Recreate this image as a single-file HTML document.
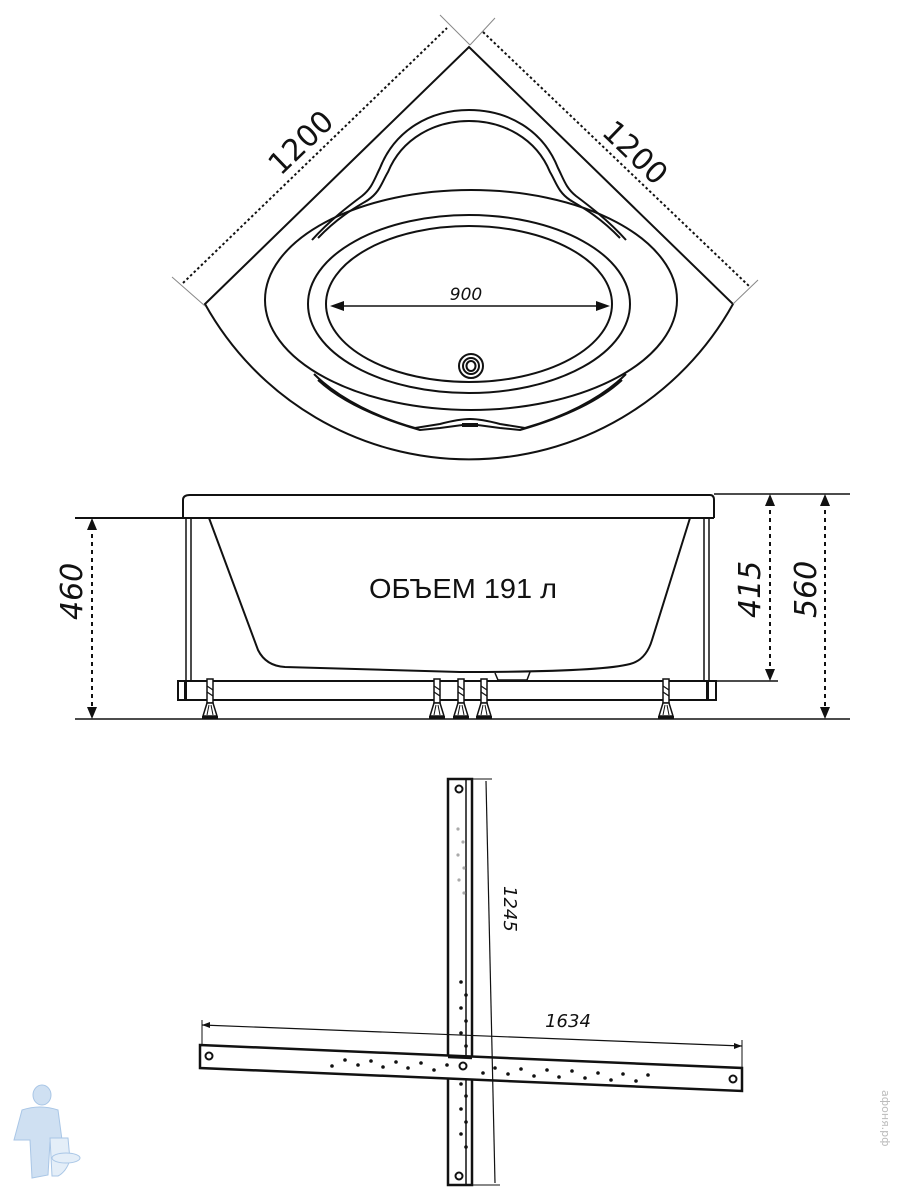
<!DOCTYPE html>
<html><head><meta charset="utf-8"><style>
html,body{margin:0;padding:0;background:#fff;}
svg{display:block}
text{font-family:"DejaVu Sans","Liberation Sans",sans-serif;fill:#111}
</style></head><body>
<svg width="900" height="1200" viewBox="0 0 900 1200" xmlns="http://www.w3.org/2000/svg">
<defs>
<g id="foot">
<rect x="-3" y="679" width="6" height="24" fill="#fff" stroke="#111" stroke-width="1.5"/>
<path d="M-3,703 L-7,716 L7,716 L3,703 Z" fill="#fff" stroke="#111" stroke-width="1.5"/>
<rect x="-8" y="716" width="16" height="3" fill="#111"/>
<line x1="-3" y1="686" x2="3" y2="690" stroke="#111" stroke-width="1.2"/>
<line x1="-3" y1="692" x2="3" y2="696" stroke="#111" stroke-width="1.2"/>
<line x1="-1" y1="705" x2="-3" y2="715" stroke="#111" stroke-width="1"/>
<line x1="1" y1="705" x2="3" y2="715" stroke="#111" stroke-width="1"/>
</g>
</defs>
<g fill="none" stroke="#111" stroke-width="2">
<!-- TOP VIEW -->
<path d="M205,304 L469,47 L733,304 A302,302 0 0 1 205,304 Z"/>
<ellipse cx="471" cy="300" rx="206" ry="110"/>
<ellipse cx="469" cy="304" rx="161" ry="89"/>
<ellipse cx="469" cy="304" rx="143" ry="78"/>
<path d="M312,240 C330,220 350,205 362,196 C372,188 374,180 380,168 C395,130 430,110 469,110 C508,110 543,130 558,168 C564,180 566,188 576,196 C588,205 608,220 626,240"/>
<path d="M318,238 C340,215 360,205 368,200 C380,192 382,182 388,172 C402,138 435,121 469,121 C503,121 536,138 550,172 C556,182 558,192 570,200 C578,205 598,215 620,238"/>
<path d="M314,374 C340,400 380,418 415,428 L440,424 C455,420 465,419 470,419 C475,419 485,420 500,424 L525,428 C560,418 600,400 626,374"/>
<path d="M318,380 C345,405 385,420 420,430 L440,428 L470,424 L500,428 L520,430 C555,420 595,405 622,380"/>
<line x1="462" y1="425" x2="478" y2="425" stroke-width="4"/>
<ellipse cx="471" cy="366" rx="12" ry="12"/>
<ellipse cx="471" cy="366" rx="8" ry="8"/>
<ellipse cx="471" cy="366" rx="4.5" ry="5"/>
<line x1="334" y1="306" x2="606" y2="306" stroke-width="1.6"/>
</g>
<path d="M330,306 L344,301 L344,311 Z M610,306 L596,301 L596,311 Z" fill="#111"/>
<text x="466" y="300" font-size="17" font-style="italic" text-anchor="middle">900</text>
<g stroke="#111" fill="none">
<line x1="183" y1="283" x2="447" y2="28" stroke-width="2" stroke-dasharray="2.5,2.5"/>
<line x1="483" y1="32" x2="749" y2="286" stroke-width="2" stroke-dasharray="2.5,2.5"/>
<line x1="172" y1="277" x2="205" y2="306" stroke="#888" stroke-width="1"/>
<line x1="440" y1="15" x2="470" y2="45" stroke="#888" stroke-width="1"/>
<line x1="470" y1="45" x2="495" y2="18" stroke="#888" stroke-width="1"/>
<line x1="733" y1="304" x2="758" y2="280" stroke="#888" stroke-width="1"/>
</g>
<text x="0" y="0" font-size="30" transform="translate(308,150) rotate(-44)" text-anchor="middle">1200</text>
<text x="0" y="0" font-size="30" transform="translate(628,160) rotate(44)" text-anchor="middle">1200</text>

<!-- SIDE VIEW -->
<g fill="none" stroke="#111" stroke-width="2">
<path d="M183,518 L183,500 Q183,495 190,495 L710,495 Q714,495 714,500 L714,518"/>
<line x1="75" y1="518" x2="714" y2="518"/>
<line x1="714" y1="494" x2="850" y2="494" stroke-width="1.5"/>
<line x1="75" y1="719" x2="850" y2="719" stroke-width="1.5"/>
<rect x="178" y="681" width="538" height="19"/>
<line x1="700" y1="681" x2="778" y2="681" stroke-width="1.5"/>
<line x1="186" y1="518" x2="186" y2="681" stroke-width="1.5"/>
<line x1="191" y1="518" x2="191" y2="681" stroke-width="1.5"/>
<line x1="704" y1="518" x2="704" y2="681" stroke-width="1.5"/>
<line x1="709" y1="518" x2="709" y2="681" stroke-width="1.5"/>
<path d="M209,518 L258,650 Q266,666 285,667 L460,672 Q600,672 630,664 Q646,660 652,640 L690,518"/>
<path d="M495,673 L498,680 L527,680 L530,672" stroke-width="1.5"/>
<g stroke-dasharray="4,4" stroke-width="2">
<line x1="92" y1="526" x2="92" y2="712"/>
<line x1="770" y1="502" x2="770" y2="674"/>
<line x1="825" y1="502" x2="825" y2="712"/>
</g>
</g>
<g fill="#111">
<path d="M92,518 L87,530 L97,530 Z M92,719 L87,707 L97,707 Z"/>
<path d="M770,494 L765,506 L775,506 Z M770,681 L765,669 L775,669 Z"/>
<path d="M825,494 L820,506 L830,506 Z M825,719 L820,707 L830,707 Z"/>
<rect x="184" y="682" width="3" height="17"/><rect x="706" y="682" width="3" height="17"/>
</g>
<use href="#foot" transform="translate(210,0)"/>
<use href="#foot" transform="translate(437,0)"/>
<use href="#foot" transform="translate(461,0)"/>
<use href="#foot" transform="translate(484,0)"/>
<use href="#foot" transform="translate(666,0)"/>
<text x="463" y="598" font-size="28" text-anchor="middle" style="font-family:'Liberation Sans',sans-serif" textLength="188" lengthAdjust="spacingAndGlyphs">ОБЪЕМ 191 л</text>
<text font-size="30" font-style="italic" transform="translate(82,620) rotate(-90)">460</text>
<text font-size="30" font-style="italic" transform="translate(760,618) rotate(-90)">415</text>
<text font-size="30" font-style="italic" transform="translate(816,618) rotate(-90)">560</text>

<!-- BOTTOM FRAME -->
<g fill="none" stroke="#111">
<rect x="448" y="779" width="24" height="406" stroke-width="2.5" fill="#fff"/>
<line x1="466" y1="779" x2="466" y2="1185" stroke-width="1.5"/>
<path d="M200,1045 L742,1068 L742,1091 L200,1068 Z" stroke-width="2.5" fill="#fff"/>
<line x1="448" y1="1057" x2="472" y2="1058" stroke-width="2.5"/>
<line x1="486" y1="781" x2="495" y2="1183" stroke-width="1.2"/>
<line x1="202" y1="1025" x2="742" y2="1046" stroke-width="1.2"/>
<line x1="202" y1="1020" x2="202" y2="1045" stroke-width="1"/>
<line x1="742" y1="1040" x2="742" y2="1068" stroke-width="1"/>
<line x1="472" y1="779" x2="492" y2="779" stroke-width="1"/>
<line x1="472" y1="1185" x2="500" y2="1185" stroke-width="1"/>
<circle cx="459" cy="789" r="3.5" stroke-width="2"/>
<circle cx="459" cy="1176" r="3.5" stroke-width="2"/>
<circle cx="209" cy="1056" r="3.5" stroke-width="2"/>
<circle cx="733" cy="1079" r="3.5" stroke-width="2"/>
<circle cx="463" cy="1066" r="3.5" stroke-width="2"/>
</g>
<path d="M202,1025 L210,1022 L210,1028 Z M742,1046 L734,1043 L734,1049 Z" fill="#111"/>
<g fill="#aaa"><circle cx="458" cy="829" r="1.6"/><circle cx="463" cy="842" r="1.6"/><circle cx="458" cy="855" r="1.6"/><circle cx="464" cy="868" r="1.6"/><circle cx="459" cy="880" r="1.6"/><circle cx="464" cy="893" r="1.6"/></g>
<g fill="#111">
<circle cx="461" cy="982" r="1.8"/><circle cx="466" cy="995" r="1.8"/><circle cx="461" cy="1008" r="1.8"/><circle cx="466" cy="1021" r="1.8"/><circle cx="461" cy="1033" r="1.8"/><circle cx="466" cy="1046" r="1.8"/>
<circle cx="461" cy="1084" r="1.8"/><circle cx="466" cy="1096" r="1.8"/><circle cx="461" cy="1109" r="1.8"/><circle cx="466" cy="1122" r="1.8"/><circle cx="461" cy="1134" r="1.8"/><circle cx="466" cy="1147" r="1.8"/>
<circle cx="332" cy="1066" r="1.8"/><circle cx="345" cy="1060" r="1.8"/><circle cx="358" cy="1065" r="1.8"/><circle cx="371" cy="1061" r="1.8"/><circle cx="383" cy="1067" r="1.8"/><circle cx="396" cy="1062" r="1.8"/><circle cx="408" cy="1068" r="1.8"/><circle cx="421" cy="1063" r="1.8"/><circle cx="434" cy="1070" r="1.8"/><circle cx="447" cy="1065" r="1.8"/>
<circle cx="483" cy="1073" r="1.8"/><circle cx="495" cy="1068" r="1.8"/><circle cx="508" cy="1074" r="1.8"/><circle cx="521" cy="1069" r="1.8"/><circle cx="534" cy="1076" r="1.8"/><circle cx="547" cy="1070" r="1.8"/><circle cx="559" cy="1077" r="1.8"/><circle cx="572" cy="1071" r="1.8"/><circle cx="585" cy="1078" r="1.8"/><circle cx="598" cy="1073" r="1.8"/><circle cx="611" cy="1080" r="1.8"/><circle cx="623" cy="1074" r="1.8"/><circle cx="636" cy="1081" r="1.8"/><circle cx="648" cy="1075" r="1.8"/>
</g>
<text x="568" y="1027" font-size="18" font-style="italic" text-anchor="middle">1634</text>
<text font-size="18" font-style="italic" transform="translate(504,886) rotate(90)">1245</text>

<g fill="#cfe0f2" stroke="#a9c6e6" stroke-width="1">
<ellipse cx="42" cy="1095" rx="9" ry="10"/>
<path d="M22,1110 Q40,1104 58,1110 L62,1140 L50,1142 L48,1175 L32,1178 L30,1140 L14,1140 Z"/>
<path d="M50,1138 L68,1138 L70,1160 Q66,1172 58,1176 L52,1176 Z" fill="#e4eef8"/>
<ellipse cx="66" cy="1158" rx="14" ry="5" fill="#e4eef8"/>
</g>
<text font-size="11" style="fill:#bbb" transform="translate(882,1090) rotate(90)">афоня.рф</text>
</svg>
</body></html>
